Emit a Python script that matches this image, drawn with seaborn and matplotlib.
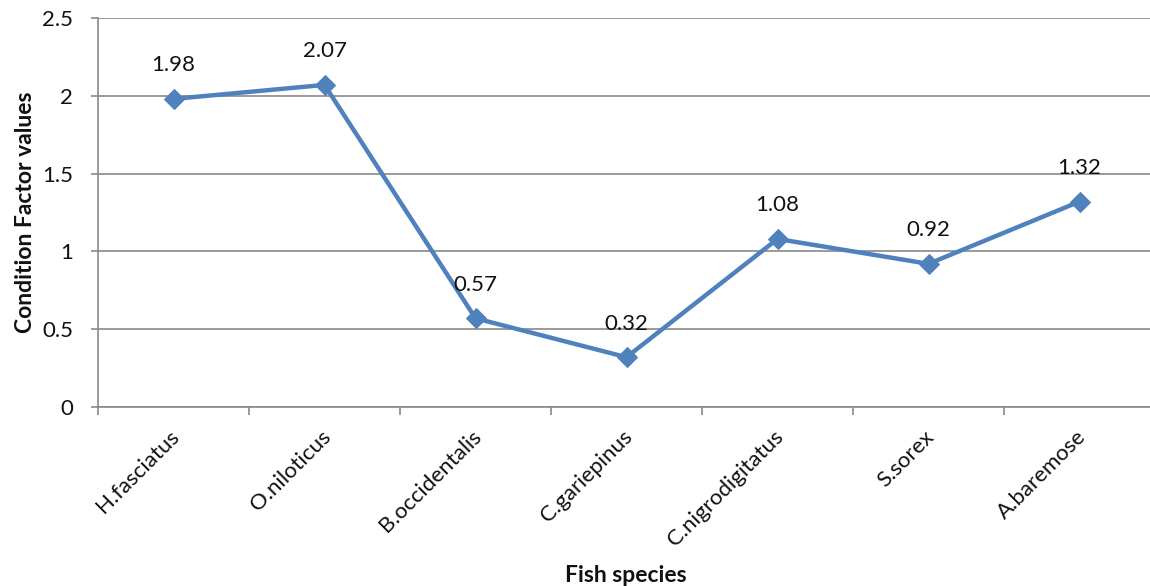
import matplotlib
matplotlib.use("Agg")
import matplotlib.pyplot as plt
import matplotlib.transforms as mtransforms
import seaborn as sns
import pandas as pd

species = ["H.fasciatus", "O.niloticus", "B.occidentalis", "C.gariepinus",
           "C.nigrodigitatus", "S.sorex", "A.baremose"]
condition_factor = [1.98, 2.07, 0.57, 0.32, 1.08, 0.92, 1.32]
y_ticks = [0, 0.5, 1, 1.5, 2, 2.5]
y_tick_labels = ["0", "0.5", "1", "1.5", "2", "2.5"]

sns.set_theme(style="white")
plt.rcParams["font.family"] = ["Lato", "DejaVu Sans"]

df = pd.DataFrame({"species": species, "k": condition_factor})
df["pos"] = range(len(species))

fig = plt.figure(figsize=(11.5, 5.86), dpi=100)
W, H = 1150, 586
ax = fig.add_axes([98 / W, 1 - 407 / H, (1155 - 98) / W, (407 - 18) / H])

line_color = "#4F81BD"
grid_color = "#898989"
text_color = "#111111"
tick_fs = 16

sns.lineplot(data=df, x="pos", y="k", ax=ax, color=line_color, linewidth=3.2,
             marker="D", markersize=10, markeredgecolor=line_color,
             markerfacecolor=line_color, legend=False)

ax.set_xlim(-0.5, len(species) - 0.5)
ax.set_ylim(0, 2.5)
ax.set_yticks(y_ticks)
ax.set_yticklabels(y_tick_labels)
ax.yaxis.grid(True, color=grid_color, linewidth=1.2)
ax.set_axisbelow(True)

# Category ticks sit on the boundaries between species; labels at the centres
ax.set_xticks([i - 0.5 for i in range(len(species) + 1)], minor=False)
ax.set_xticklabels([])
ax.set_xticks(range(len(species)), minor=True)
ax.set_xticklabels(species, minor=True, rotation=45, ha="right",
                   rotation_mode="anchor", fontsize=tick_fs, color=text_color)
ax.tick_params(axis="x", which="minor", length=0, pad=14)
ax.tick_params(axis="x", which="major", length=6, width=1.2, color=grid_color,
               bottom=True)
offset = mtransforms.ScaledTranslation(-3 / 72, 0, fig.dpi_scale_trans)
for lbl in ax.get_xticklabels(minor=True):
    lbl.set_transform(lbl.get_transform() + offset)

ax.tick_params(axis="y", length=5, width=1.2, color=grid_color, left=True,
               pad=13, labelsize=tick_fs, labelcolor=text_color)

for side in ["top", "right"]:
    ax.spines[side].set_visible(False)
for side in ["left", "bottom"]:
    ax.spines[side].set_visible(True)
    ax.spines[side].set_color(grid_color)
    ax.spines[side].set_linewidth(1.2)

for x, v in zip(df["pos"], df["k"]):
    ax.annotate(f"{v:.2f}", (x, v), xytext=(0, 17), textcoords="offset points",
                ha="center", va="bottom", fontsize=tick_fs, color=text_color)

ax.set_xlabel("")
ax.set_ylabel("Condition Factor values", fontsize=16.5, fontweight="bold",
              labelpad=4, color=text_color)
fig.text(626 / W, 1 - 576 / H, "Fish species", ha="center", va="center",
         fontsize=16.5, fontweight="bold", color=text_color)

fig.savefig("out.png", dpi=100)
